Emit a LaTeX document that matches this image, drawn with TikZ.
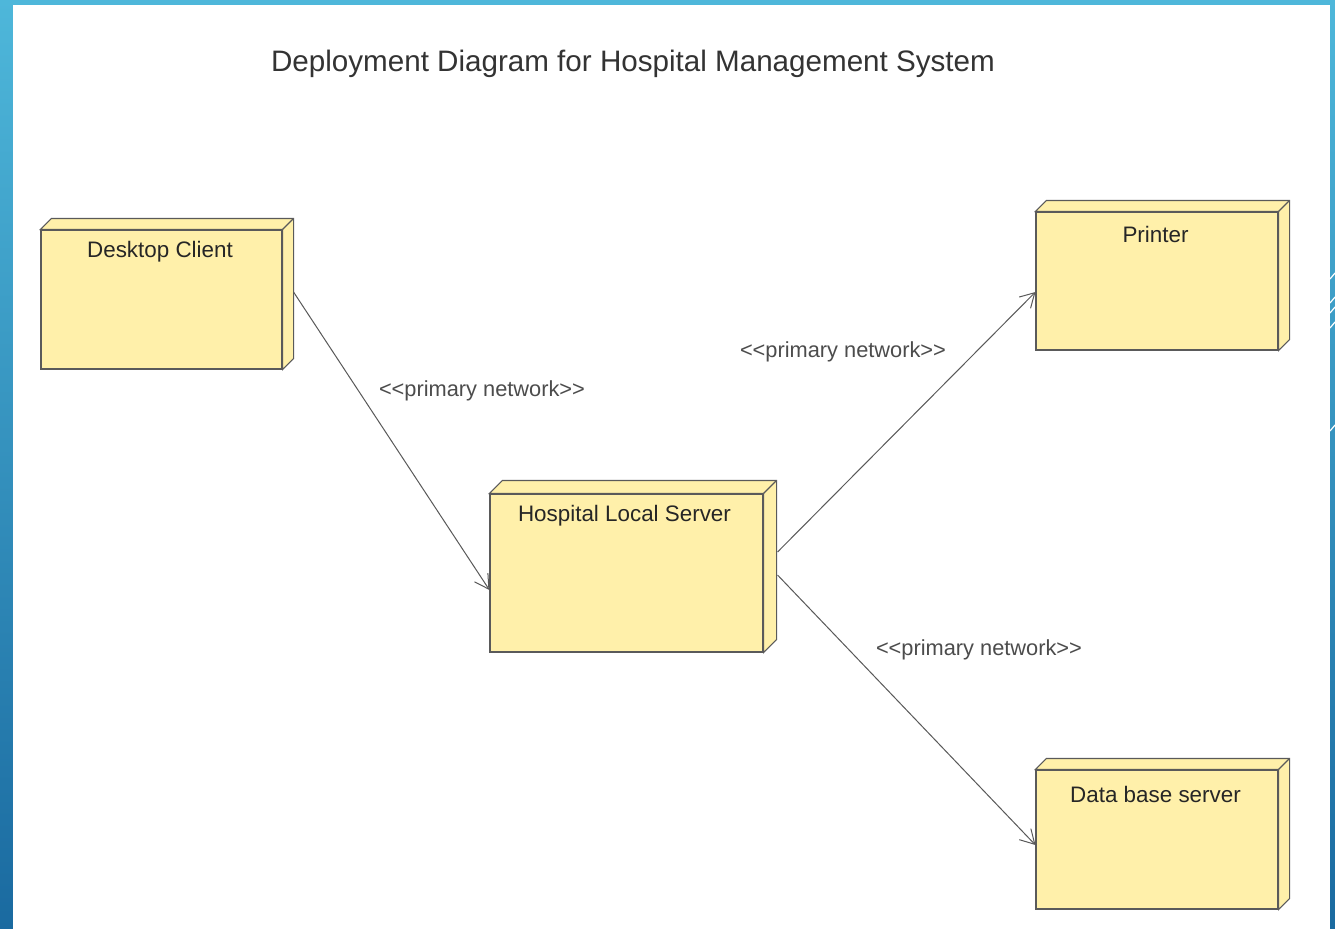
\documentclass[tikz,border=0pt]{standalone}
\usepackage{fontspec}
\setmainfont{Liberation Sans}
\usetikzlibrary{arrows.meta}
\definecolor{nodefill}{RGB}{255,240,170}
\definecolor{boxgray}{RGB}{90,90,90}
\definecolor{frametop}{RGB}{78,183,218}
\definecolor{framebot}{RGB}{26,106,160}
\begin{document}
\begin{tikzpicture}[x=0.5pt,y=-0.5pt,
    box/.style={draw=boxgray,fill=nodefill,line width=0.55pt,inner sep=0pt},
    boxtext/.style={font=\fontsize{11.2}{13}\selectfont,text=black!85},
    link/.style={-{Straight Barb[length=7pt,width=8pt]},draw=black!65,line width=0.5pt},
    linktext/.style={font=\fontsize{10.9}{13}\selectfont,text=black!70}]
    \useasboundingbox(0,0)rectangle(1335,928);
    \shade[top color=frametop,bottom color=framebot](0,0)rectangle(1335,928);
    \fill[white](13,5)rectangle(1330,932);
    \foreach \y in {273,297,307,322,425}
        \draw[white,line width=0.6pt](1330,\y+6)--(1335,\y);
    \node[font=\fontsize{14.8}{17}\selectfont,text=black!80](title)at(633,64){Deployment Diagram for Hospital Management System};
    % nodes
    \node[box,minimum width=120.5pt,minimum height=69.5pt](dc)at(161.5,299.5){};
    \node[box,minimum width=136.5pt,minimum height=79pt](hls)at(626.5,573){};
    \node[box,minimum width=121pt,minimum height=69pt](pr)at(1157,281){};
    \node[box,minimum width=121pt,minimum height=69.5pt](db)at(1157,839.5){};
    \foreach \n/\d in {dc/11,hls/13,pr/11,db/11}{
        \draw[box](\n.north west)--++(\d,-\d)--([shift={(\d,-\d)}]\n.north east)--([shift={(\d,-\d)}]\n.south east)--(\n.south east)--(\n.north east)--cycle;
        \draw[box](\n.north east)--++(\d,-\d);
    }
    \node[boxtext](dcname)at(160,252){Desktop Client};
    \node[boxtext](hlsname)at(624.5,516){Hospital Local Server};
    \node[boxtext](prname)at(1155.5,234){Printer};
    \node[boxtext](dbname)at(1155.5,794){Data base server};
    % connectors
    \draw[link]([xshift=5.5pt,yshift=3.75pt]dc.east)--([yshift=-8.5pt]hls.west);
    \draw[link]([xshift=7pt,yshift=10.5pt]hls.east)--([yshift=-5.5pt]pr.west);
    \draw[link]([xshift=7pt,yshift=-1pt]hls.east)--([yshift=-2.75pt]db.west);
    \node[linktext](net1)at(482,391){<{}<primary network>{}>};
    \node[linktext](net2)at(843,352){<{}<primary network>{}>};
    \node[linktext](net3)at(979,650){<{}<primary network>{}>};
\end{tikzpicture}
\end{document}
